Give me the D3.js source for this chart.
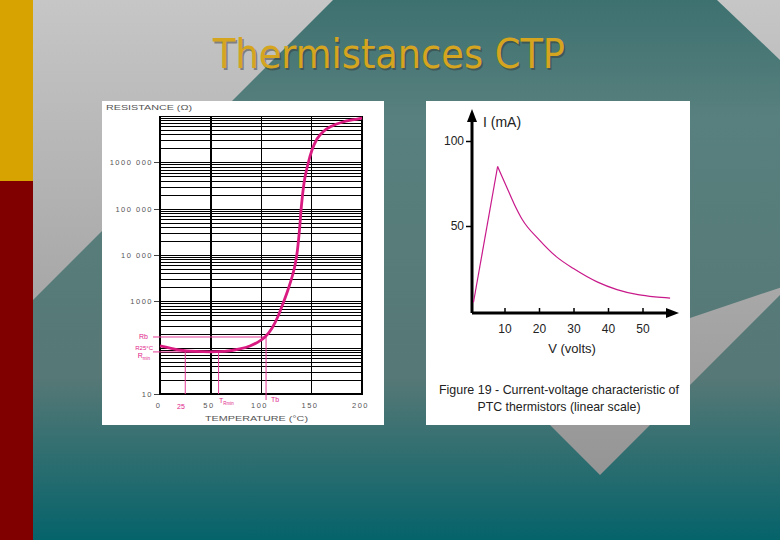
<html>
<head>
<script src="https://d3js.org/d3.v7.min.js"></script>
<style>
body { margin: 0; }
.grid line { stroke: #000; shape-rendering: crispEdges; }
.rt-axis text { font-family: "Liberation Sans", Arial, sans-serif; font-size: 7.5px; fill: #555; letter-spacing: 1.5px; }
.rt-axis line, .rt-axis path { stroke: #444; shape-rendering: crispEdges; }
.pink { fill: #e0248a; font-family: "Liberation Sans", Arial, sans-serif; font-size: 7px; }
.iv text { font-family: "Liberation Sans Narrow", "Liberation Sans", Arial, sans-serif; fill: #222; }
.iv-axis text { font-size: 12px; }
.iv-axis line { stroke: #000; stroke-width: 1.5; }
.iv-axis path { display: none; }
</style>
</head>
<body>
<svg width="780" height="540"></svg>
<script>

// left figure : resistance vs temperature (log scale)
var rtTemp = [0, 10, 20, 35, 50, 64, 79, 89, 97, 104, 111, 117, 122, 127, 131, 133.7, 136.1, 138.1, 140.1, 142.6, 146.5, 150.5, 155.4, 162.4, 170.3, 181.2, 190.1, 200];
var rtRes  = [109, 98, 89, 83, 81, 83, 94, 109, 132, 170, 266, 483, 920, 1846, 3520, 6085, 12820, 34670, 120000, 358000, 920000, 1850000, 3190000, 4750000, 6100000, 7430000, 8200000, 9060000];
var rTickVals   = [10, 1000, 10000, 100000, 1000000];
var rTickLabels = ["10", "1000", "10 000", "100 000", "1000 000"];
var tTickVals   = [0, 50, 100, 150, 200];
// marked points on the R-T curve
var tb = 105, rb = 170;
var tRmin = 58, rMin = 81;
var t25 = 25, r25 = 89;

// right figure : current vs voltage (linear)
var ivVolt = [1, 8, 10.4, 12.8, 15.1, 20, 25, 30, 37, 42.6, 48.7, 53.6, 58];
var ivCurr = [5, 85, 74, 63, 54, 42, 32, 25, 17, 12.6, 9.6, 8.3, 7.6];
var vTickVals = [10, 20, 30, 40, 50];
var iTickVals = [50, 100];

var svg = d3.select("svg");
var defs = svg.append("defs");

var bg = defs.append("linearGradient").attr("id", "bg")
    .attr("x1", 0).attr("y1", 0).attr("x2", 0).attr("y2", 1);
bg.append("stop").attr("offset", "0").attr("stop-color", "#3d7170");
bg.append("stop").attr("offset", "0.22").attr("stop-color", "#58807e");
bg.append("stop").attr("offset", "0.7").attr("stop-color", "#567876");
bg.append("stop").attr("offset", "1").attr("stop-color", "#05636a");

var gr = defs.append("linearGradient").attr("id", "gray")
    .attr("gradientUnits", "userSpaceOnUse")
    .attr("x1", 0).attr("y1", 0).attr("x2", 0).attr("y2", 540);
gr.append("stop").attr("offset", "0").attr("stop-color", "#c6c6c6");
gr.append("stop").attr("offset", "1").attr("stop-color", "#8e8e8e");

svg.append("rect").attr("width", 780).attr("height", 540).attr("fill", "url(#bg)");

var shapes = [
  [[33, 0], [333, 0], [33, 300]],
  [[717, 0], [780, 0], [780, 60]],
  [[690, 318], [782, 287], [782, 293], [600, 475], [550, 425], [550, 318]]
];
svg.selectAll(".shape").data(shapes).enter().append("polygon")
    .attr("class", "shape")
    .attr("points", function(d) { return d.join(" "); })
    .attr("fill", "url(#gray)");

svg.append("rect").attr("width", 33).attr("height", 181).attr("fill", "#d6a300");
svg.append("rect").attr("y", 181).attr("width", 33).attr("height", 359).attr("fill", "#800000");

// title
svg.append("text").attr("x", 390.5).attr("y", 69.5)
    .attr("text-anchor", "middle")
    .attr("textLength", 352).attr("lengthAdjust", "spacingAndGlyphs")
    .style("font-family", "'DejaVu Sans', Verdana, sans-serif").style("font-size", "40px")
    .attr("fill", "#333").attr("opacity", 0.45)
    .text("Thermistances CTP");
svg.append("text").attr("x", 389).attr("y", 68)
    .attr("text-anchor", "middle")
    .attr("textLength", 352).attr("lengthAdjust", "spacingAndGlyphs")
    .style("font-family", "'DejaVu Sans', Verdana, sans-serif").style("font-size", "40px")
    .attr("fill", "#d5a51f")
    .text("Thermistances CTP");

// ---------- left figure ----------
svg.append("rect").attr("x", 102).attr("y", 101).attr("width", 282).attr("height", 324).attr("fill", "#fff");

var x = d3.scaleLinear().domain([0, 200]).range([160, 362]);
var y = d3.scaleLog().domain([10, 1e7]).range([394, 116]);

var grid = svg.append("g").attr("class", "grid");
var minor = [];
for (var d = 1; d <= 6; d++) {
  for (var k = 1; k <= 9; k++) minor.push(k * Math.pow(10, d));
}
minor.push(1e7);
grid.selectAll(".h").data(minor).enter().append("line")
    .attr("x1", x(0)).attr("x2", x(200))
    .attr("y1", function(d) { return Math.round(y(d)) + 0.5; })
    .attr("y2", function(d) { return Math.round(y(d)) + 0.5; })
    .attr("stroke-width", 1);
grid.selectAll(".v").data(tTickVals).enter().append("line")
    .attr("x1", function(d) { return x(d); }).attr("x2", function(d) { return x(d); })
    .attr("y1", y(1e7)).attr("y2", y(10))
    .attr("stroke-width", function(d) { return (d == 0 || d == 50 || d == 200) ? 2 : 1; });
grid.append("line").attr("x1", x(0) - 1).attr("x2", x(200) + 1)
    .attr("y1", y(10)).attr("y2", y(10)).attr("stroke-width", 2);

var yAxis = d3.axisLeft(y).tickValues(rTickVals)
    .tickFormat(function(d, i) { return rTickLabels[i]; })
    .tickSize(5).tickPadding(1);
svg.append("g").attr("class", "rt-axis")
    .attr("transform", "translate(" + (x(0) - 1) + ",0)")
    .call(yAxis)
    .select(".domain").remove();

var xAxis = d3.axisBottom(x).tickValues(tTickVals).tickSize(0).tickPadding(9);
svg.append("g").attr("class", "rt-axis")
    .attr("transform", "translate(-2," + y(10) + ")")
    .call(xAxis)
    .select(".domain").remove();

svg.append("text").attr("x", 106).attr("y", 110)
    .attr("textLength", 86).attr("lengthAdjust", "spacingAndGlyphs")
    .style("font-family", "Liberation Sans, Arial, sans-serif").style("font-size", "7.5px")
    .attr("fill", "#555")
    .text("RESISTANCE (\u03a9)");
svg.append("text").attr("x", 205).attr("y", 421)
    .attr("textLength", 103).attr("lengthAdjust", "spacingAndGlyphs")
    .style("font-family", "Liberation Sans, Arial, sans-serif").style("font-size", "7.5px")
    .attr("fill", "#555")
    .text("TEMPERATURE (\u00b0C)");

// pink marks
var pinkLines = [
  [[153, y(rb)], [x(tb), y(rb)]],
  [[x(tb), y(rb)], [x(tb), 400]],
  [[153, y(rMin)], [x(tRmin), y(rMin)]],
  [[x(tRmin), y(rMin)], [x(tRmin), y(10)]],
  [[x(t25), y(r25)], [x(t25), y(10)]]
];
svg.selectAll(".pl").data(pinkLines).enter().append("line")
    .attr("x1", function(d) { return d[0][0]; }).attr("y1", function(d) { return d[0][1]; })
    .attr("x2", function(d) { return d[1][0]; }).attr("y2", function(d) { return d[1][1]; })
    .attr("stroke", "#e43c97").attr("stroke-width", 1);

svg.append("text").attr("class", "pink").attr("x", 148).attr("y", 338.5).attr("text-anchor", "end").text("Rb");
svg.append("text").attr("class", "pink").attr("x", 153).attr("y", 349.5).attr("text-anchor", "end")
    .style("font-size", "6px").text("R25\u00b0C");
var rm = svg.append("text").attr("class", "pink").attr("x", 150).attr("y", 358).attr("text-anchor", "end");
rm.append("tspan").text("R");
rm.append("tspan").attr("dy", 1.5).style("font-size", "4.5px").text("min");
svg.append("text").attr("class", "pink").attr("x", 181).attr("y", 409).attr("text-anchor", "middle").text("25");
var trm = svg.append("text").attr("class", "pink").attr("x", 219).attr("y", 403);
trm.append("tspan").text("T");
trm.append("tspan").attr("dy", 1.5).style("font-size", "4.5px").text("Rmin");
svg.append("text").attr("class", "pink").attr("x", 271).attr("y", 402).text("Tb");

var rtLine = d3.line()
    .curve(d3.curveMonotoneX)
    .x(function(d, i) { return x(rtTemp[i]); })
    .y(function(d) { return y(d); });
svg.append("path").datum(rtRes)
    .attr("d", rtLine)
    .attr("fill", "none").attr("stroke", "#d91a80").attr("stroke-width", 2.8);

// ---------- right figure ----------
svg.append("rect").attr("x", 426).attr("y", 101).attr("width", 264).attr("height", 324).attr("fill", "#fff");

var xv = d3.scaleLinear().domain([0, 60]).range([470, 677]);
var yi = d3.scaleLinear().domain([0, 100]).range([311, 141]);
var iv = svg.append("g").attr("class", "iv");

iv.append("g").attr("class", "iv-axis")
    .attr("transform", "translate(0,313)")
    .call(d3.axisBottom(xv).tickValues(vTickVals).tickSize(-5).tickPadding(11));
iv.append("g").attr("class", "iv-axis")
    .attr("transform", "translate(472,0)")
    .call(d3.axisLeft(yi).tickValues(iTickVals).tickSize(6).tickPadding(2));

iv.append("line").attr("x1", 472).attr("x2", 472).attr("y1", 313).attr("y2", 120)
    .attr("stroke", "#000").attr("stroke-width", 3);
iv.append("line").attr("x1", 472).attr("x2", 668).attr("y1", 313).attr("y2", 313)
    .attr("stroke", "#000").attr("stroke-width", 3);
iv.append("polygon").attr("points", "472,109 467,122 477,122").attr("fill", "#000");
iv.append("polygon").attr("points", "679,313 666,308 666,318").attr("fill", "#000");

iv.append("text").attr("x", 483).attr("y", 127).style("font-size", "14px").text("I (mA)");
iv.append("text").attr("x", 572).attr("y", 353).attr("text-anchor", "middle").style("font-size", "13px").text("V (volts)");
iv.append("text").attr("x", 559).attr("y", 394).attr("text-anchor", "middle")
    .attr("textLength", 240).attr("lengthAdjust", "spacingAndGlyphs")
    .style("font-size", "13px").text("Figure 19 - Current-voltage characteristic of");
iv.append("text").attr("x", 559).attr("y", 411).attr("text-anchor", "middle")
    .attr("textLength", 163).attr("lengthAdjust", "spacingAndGlyphs")
    .style("font-size", "13px").text("PTC thermistors (linear scale)");

// rising part is straight, the decay after the peak is smooth
var ivRise = d3.line()
    .x(function(d, i) { return xv(ivVolt[i]); })
    .y(function(d) { return yi(d); });
var ivFall = d3.line()
    .curve(d3.curveMonotoneX)
    .x(function(d, i) { return xv(ivVolt[i + 1]); })
    .y(function(d) { return yi(d); });
iv.append("path").datum(ivCurr.slice(0, 2))
    .attr("d", ivRise)
    .attr("fill", "none").attr("stroke", "#c8198a").attr("stroke-width", 1.2);
iv.append("path").datum(ivCurr.slice(1))
    .attr("d", ivFall)
    .attr("fill", "none").attr("stroke", "#c8198a").attr("stroke-width", 1.2);

</script>
</body>
</html>
